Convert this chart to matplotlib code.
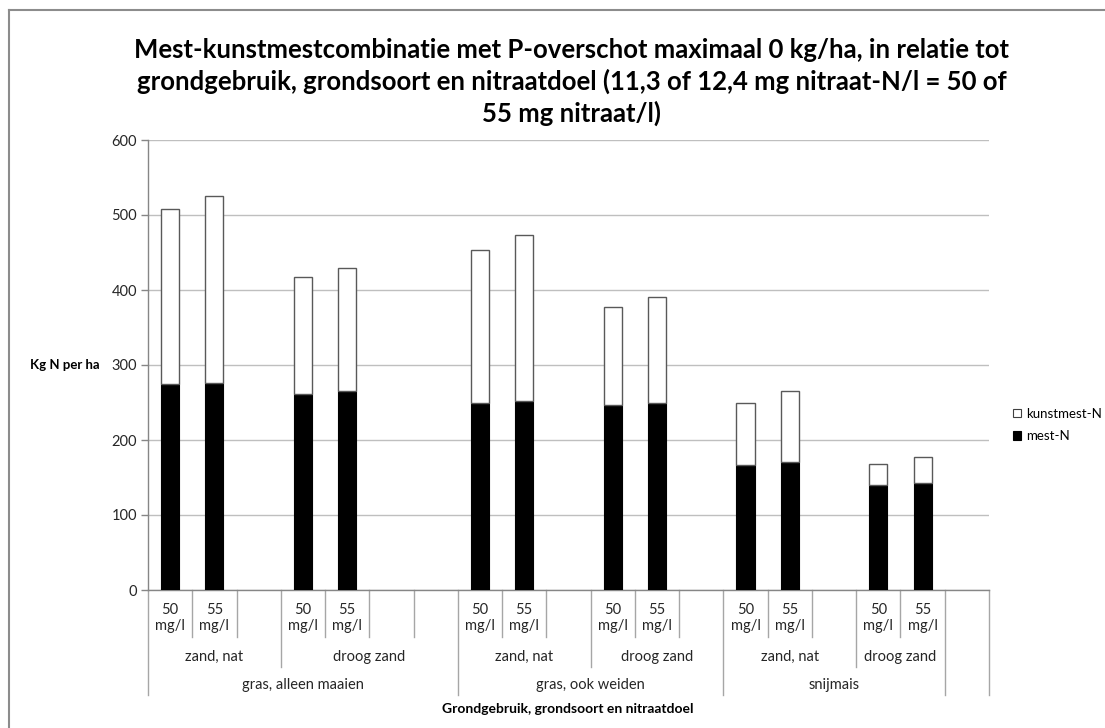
import matplotlib
matplotlib.use("Agg")
import matplotlib.pyplot as plt
import matplotlib.transforms as mtransforms
from matplotlib.lines import Line2D
from matplotlib.patches import Patch

plt.rcParams['font.family'] = ['Lato', 'DejaVu Sans']

# Category levels per slot on the x axis (innermost first)
nitraatdoel = ["50\nmg/l", "55\nmg/l", "",
               "50\nmg/l", "55\nmg/l", "", "",
               "50\nmg/l", "55\nmg/l", "",
               "50\nmg/l", "55\nmg/l", "",
               "50\nmg/l", "55\nmg/l", "",
               "50\nmg/l", "55\nmg/l",
               ""]
grondsoort = ["zand, nat"] * 3 + ["droog zand"] * 4 + \
             ["zand, nat"] * 3 + ["droog zand"] * 3 + \
             ["zand, nat"] * 3 + ["droog zand"] * 2 + [""]
grondgebruik = ["gras, alleen maaien"] * 7 + ["gras, ook weiden"] * 6 + \
               ["snijmais"] * 5 + [""]

# Stacked values (kg N per ha); None = empty slot
mest_N = [275, 276, None, 262, 265, None, None,
          250, 252, None, 247, 250, None,
          167, 171, None, 140, 143, None]
kunstmest_N = [233, 249, None, 155, 164, None, None,
               204, 222, None, 131, 141, None,
               83, 94, None, 28, 34, None]

y_ticks = [0, 100, 200, 300, 400, 500, 600]

W, H = 1105, 728
fig = plt.figure(figsize=(W / 100, H / 100), dpi=100)
fig.patch.set_facecolor("white")

x0, x1, ytop, ybot = 148, 989, 140, 590
ax = fig.add_axes([x0 / W, 1 - ybot / H, (x1 - x0) / W, (ybot - ytop) / H])

n = len(nitraatdoel)
idx = [i for i in range(n) if mest_N[i] is not None]
mest = [mest_N[i] for i in idx]
kunst = [kunstmest_N[i] for i in idx]

bw = 0.41
ax.bar(idx, mest, width=bw, color="black", edgecolor="black", linewidth=0.8,
       zorder=3, label="mest-N")
ax.bar(idx, kunst, bottom=mest, width=bw, color="white", edgecolor="#595959",
       linewidth=1.0, zorder=3, label="kunstmest-N")

ax.set_xlim(-0.5, n - 0.5)
ax.set_ylim(0, 600)
ax.set_yticks(y_ticks)
ax.set_yticklabels([str(v) for v in y_ticks], fontsize=10.5, color="#262626")
ax.tick_params(axis="y", length=5, width=1, color="#868686", pad=3)
ax.set_xticks([])
ax.yaxis.grid(True, color="#BFBFBF", linewidth=1.0, zorder=0)
ax.set_axisbelow(True)
for s in ["top", "right"]:
    ax.spines[s].set_visible(False)
ax.spines["left"].set_color("#868686")
ax.spines["bottom"].set_color("#868686")
ax.spines["left"].set_linewidth(1.0)
ax.spines["bottom"].set_linewidth(1.0)

# Multi-level category axis
tr = mtransforms.blended_transform_factory(ax.transData, ax.transAxes)
ph = ybot - ytop


def ay(py):
    return (ybot - py) / ph


row_bottom = {1: ay(637), 2: ay(667), 3: ay(695)}
for k in range(n + 1):
    if k == 0 or k == n or grondgebruik[k] != grondgebruik[k - 1]:
        lvl = 3
    elif grondsoort[k] != grondsoort[k - 1]:
        lvl = 2
    else:
        lvl = 1
    ax.add_line(Line2D([k - 0.5, k - 0.5], [0, row_bottom[lvl]], transform=tr,
                       color="#A6A6A6", linewidth=1.0, clip_on=False))

for i, lab in enumerate(nitraatdoel):
    if lab:
        ax.text(i, ay(618), lab, transform=tr, ha="center", va="center",
                fontsize=10.5, color="#262626", linespacing=1.25)


def runs(keys):
    out = []
    start = 0
    for i in range(1, len(keys) + 1):
        if i == len(keys) or keys[i] != keys[start]:
            out.append((keys[start], start, i))
            start = i
    return out


for key, a, b in runs(list(zip(grondgebruik, grondsoort))):
    if key[1]:
        ax.text((a + b - 1) / 2, ay(657), key[1], transform=tr, ha="center",
                va="center", fontsize=10.5, color="#262626")
for key, a, b in runs(grondgebruik):
    if key:
        ax.text((a + b - 1) / 2, ay(685), key, transform=tr, ha="center",
                va="center", fontsize=10.5, color="#262626")

fig.text(568 / W, 1 - 709 / H, "Grondgebruik, grondsoort en nitraatdoel",
         ha="center", va="center", fontsize=10, fontweight="bold", color="black")
fig.text(100 / W, 1 - 365 / H, "Kg N per ha", ha="right", va="center",
         fontsize=9.5, fontweight="bold", color="black")

fig.text(572 / W, 1 - 82 / H,
         "Mest-kunstmestcombinatie met P-overschot maximaal 0 kg/ha, in relatie tot\n"
         "grondgebruik, grondsoort en nitraatdoel (11,3 of 12,4 mg nitraat-N/l = 50 of\n"
         "55 mg nitraat/l)",
         ha="center", va="center", fontsize=18.5, fontweight="bold", color="black",
         linespacing=1.33)

# Legend
handles = [Patch(facecolor="white", edgecolor="#404040", linewidth=0.8, label="kunstmest-N"),
           Patch(facecolor="black", edgecolor="black", linewidth=0.8, label="mest-N")]
fig.legend(handles=handles, loc="center left", bbox_to_anchor=(1008 / W, 1 - 425 / H),
           frameon=False, fontsize=9.5, handlelength=0.6, handleheight=0.6,
           handletextpad=0.35, labelspacing=0.8, borderaxespad=0)

# Chart border (left and top edges)
fig.add_artist(Line2D([9 / W, 9 / W], [0, 1 - 10 / H], transform=fig.transFigure,
                      color="#8C8C8C", linewidth=1.5))
fig.add_artist(Line2D([9 / W, 1], [1 - 10 / H, 1 - 10 / H], transform=fig.transFigure,
                      color="#8C8C8C", linewidth=1.5))

fig.savefig("out.png", dpi=100, facecolor="white")
